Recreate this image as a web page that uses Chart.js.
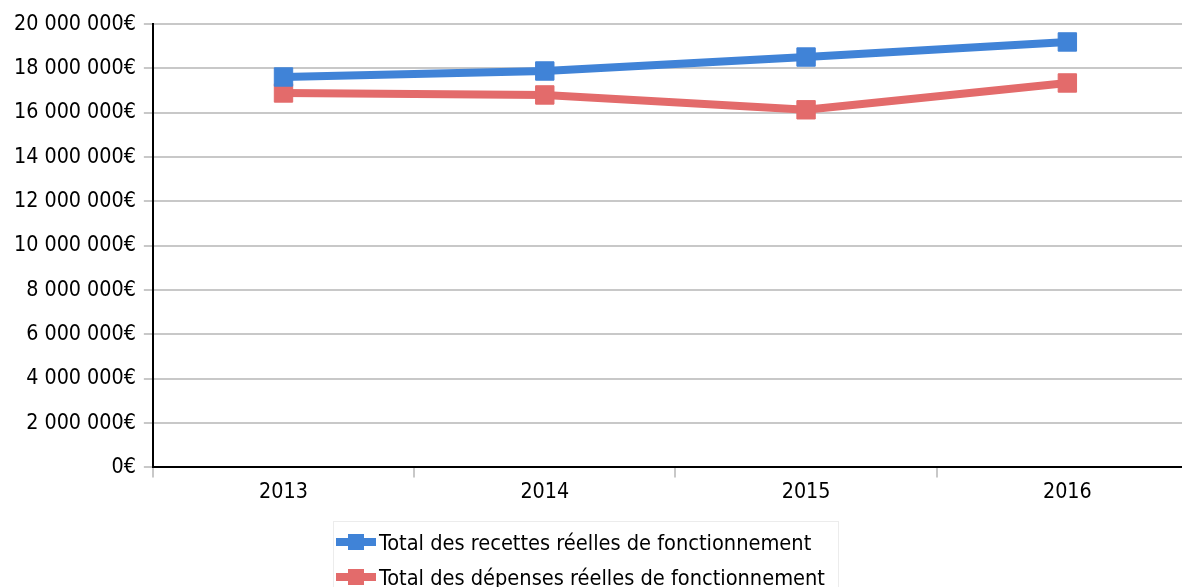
<!DOCTYPE html>
<html>
<head>
<meta charset="utf-8">
<script src="https://cdn.jsdelivr.net/npm/chart.js@4/dist/chart.umd.min.js"></script>
<style>
    html, body { margin: 0; padding: 0; background: #fff; overflow: hidden; }
    body { width: 1182px; height: 587px; position: relative; font-family: "DejaVu Sans Condensed", "DejaVu Sans", sans-serif; }
    #chart { position: absolute; left: 0; top: 0; }
    #legend {
        position: absolute; left: 333px; top: 521px; width: 506px; height: 80px;
        border: 1px solid #ececec; box-sizing: border-box;
    }
    #legend .item { position: absolute; left: 2px; height: 30px; display: flex; align-items: center; color: #000; font-size: 21.6px; }
    #legend canvas { margin-right: 3px; }
</style>
</head>
<body>
<canvas id="chart" width="1212" height="508"></canvas>
<div id="legend"></div>
<script>
"use strict";

const years = ["2013", "2014", "2015", "2016"];
const recettes = [17610000, 17880000, 18510000, 19190000];
const depenses = [16890000, 16800000, 16130000, 17340000];
const seriesNames = [
    "Total des recettes réelles de fonctionnement",
    "Total des dépenses réelles de fonctionnement"
];
const seriesColors = ["#4083d7", "#e36b6b"];
const labelFont = { family: "'DejaVu Sans Condensed', 'DejaVu Sans'", size: 21.3 };

function formatEuro(value) {
    return String(value).replace(/\B(?=(\d{3})+(?!\d))/g, " ") + "€";
}

function makeDataset(label, data, color) {
    return {
        label,
        data,
        borderColor: color,
        backgroundColor: color,
        borderWidth: 8,
        pointStyle: "rect",
        pointRadius: 13,
        pointBorderWidth: 1,
        pointHoverRadius: 13,
        tension: 0
    };
}

const chart = new Chart(document.getElementById("chart").getContext("2d"), {
    type: "line",
    data: {
        labels: years,
        datasets: [
            makeDataset(seriesNames[0], recettes, seriesColors[0]),
            makeDataset(seriesNames[1], depenses, seriesColors[1])
        ]
    },
    options: {
        responsive: false,
        animation: false,
        layout: { padding: { left: 6, right: 4, top: 24, bottom: 1 } },
        plugins: {
            legend: { display: false },
            tooltip: { enabled: false }
        },
        scales: {
            x: {
                offset: true,
                grid: {
                    offset: true,
                    drawOnChartArea: false,
                    drawTicks: true,
                    tickLength: 10,
                    color: "#c8c8c8",
                    lineWidth: 2
                },
                border: { color: "#000", width: 2 },
                ticks: {
                    color: "#000",
                    padding: 2,
                    font: labelFont
                }
            },
            y: {
                min: 0,
                max: 20000000,
                grid: {
                    color: "#c8c8c8",
                    lineWidth: 2,
                    tickLength: 9
                },
                border: { color: "#000", width: 2 },
                ticks: {
                    stepSize: 2000000,
                    color: "#000",
                    padding: 8,
                    font: labelFont,
                    callback: (value) => formatEuro(value)
                }
            }
        }
    }
});

// HTML legend built from the datasets
const legendEl = document.getElementById("legend");
chart.data.datasets.forEach((ds, i) => {
    const item = document.createElement("div");
    item.className = "item";
    item.style.top = (5 + i * 35) + "px";

    const icon = document.createElement("canvas");
    icon.width = 40;
    icon.height = 20;
    const ctx = icon.getContext("2d");
    ctx.fillStyle = ds.borderColor;
    ctx.fillRect(0, 6, 40, 8);
    ctx.fillRect(12, 2, 16, 16);
    item.appendChild(icon);

    const text = document.createElement("span");
    text.textContent = ds.label;
    item.appendChild(text);
    legendEl.appendChild(item);
});
</script>
</body>
</html>
